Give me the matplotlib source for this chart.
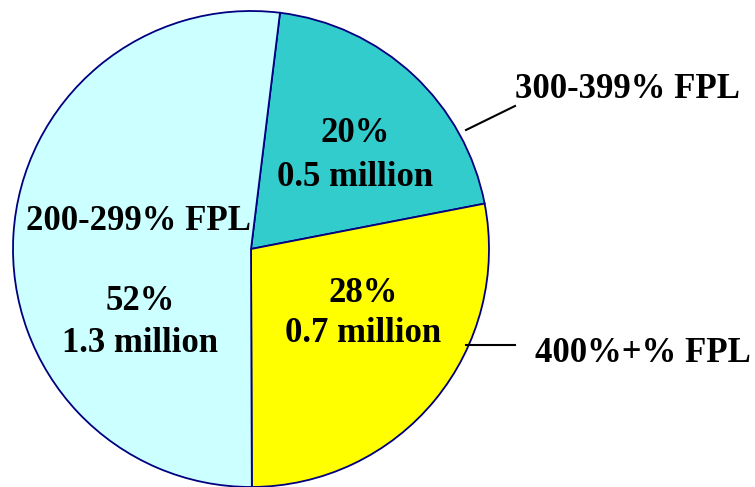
import matplotlib.pyplot as plt

# slice shares (percent) and population in millions
labels = ["300-399% FPL", "400%+% FPL", "200-299% FPL"]
shares = [20, 28, 52]
millions = [0.5, 0.7, 1.3]
colors = ["#33CCCC", "#FFFF00", "#CCFFFF"]

W, H = 755, 487
fig = plt.figure(figsize=(W / 100, H / 100), dpi=100)
ax = fig.add_axes([0, 0, 1, 1])

cx, cy, r = 251, H - 249, 238
ax.pie(shares, colors=colors, startangle=83.0, counterclock=False,
       center=(cx, cy), radius=r,
       wedgeprops=dict(edgecolor="#000080", linewidth=1.3))
ax.set_xlim(0, W)
ax.set_ylim(0, H)
ax.set_aspect("equal")
ax.axis("off")

font = dict(family="Liberation Serif", fontweight="bold", fontsize=25, color="black")

# values inside slices
ax.text(355, H - 134, f"{shares[0]}%", ha="center", va="center", **font)
ax.text(355, H - 178, f"{millions[0]} million", ha="center", va="center", **font)
ax.text(363, H - 293, f"{shares[1]}%", ha="center", va="center", **font)
ax.text(363, H - 333, f"{millions[1]} million", ha="center", va="center", **font)
ax.text(140, H - 302, f"{shares[2]}%", ha="center", va="center", **font)
ax.text(140, H - 343, f"{millions[2]} million", ha="center", va="center", **font)
ax.text(138, H - 222, labels[2], ha="center", va="center", **font)

# outside labels with leader lines
ax.plot([466, 515], [H - 130, H - 106], color="black", lw=1.5)
ax.text(515, H - 90, labels[0], ha="left", va="center", **font)
ax.plot([466, 515], [H - 345, H - 345], color="black", lw=1.5)
ax.text(535, H - 353, labels[1], ha="left", va="center", **font)

fig.savefig("out.png", dpi=100)
